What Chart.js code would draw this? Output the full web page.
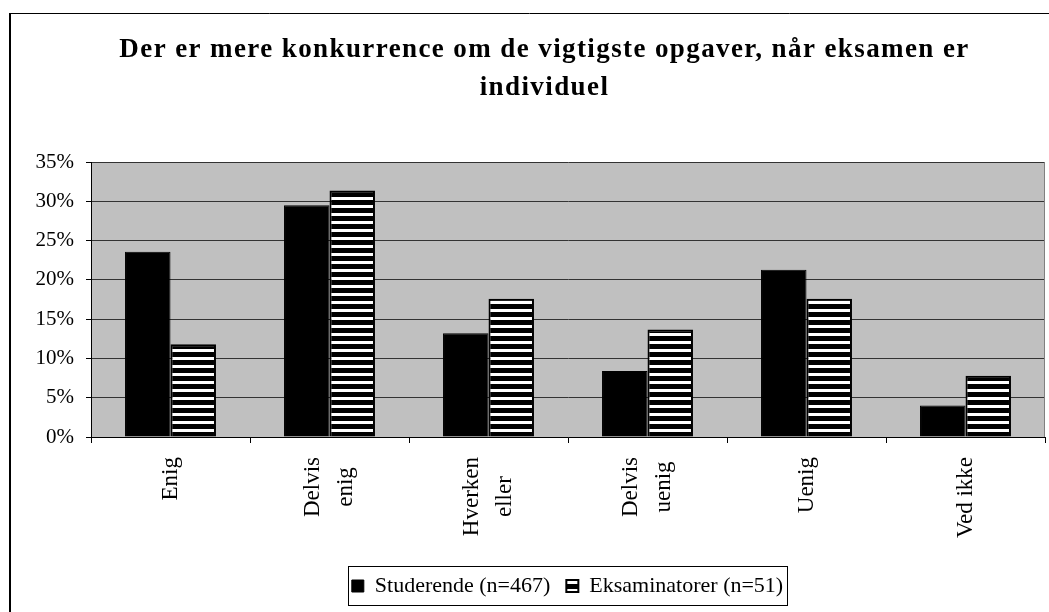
<!DOCTYPE html>
<html>
<head>
<meta charset="utf-8">
<script src="https://cdn.jsdelivr.net/npm/chart.js@4/dist/chart.umd.min.js"></script>
<style>
  html, body { margin: 0; padding: 0; background: #ffffff; }
  #wrap { width: 1049px; height: 612px; }
</style>
</head>
<body>
<div id="wrap"><canvas id="c" width="1049" height="612"></canvas></div>
<script>
// ---- data ----
const titleLines = ['Der er mere konkurrence om de vigtigste opgaver, når eksamen er', 'individuel'];
const categories = [['Enig'], ['Delvis', 'enig'], ['Hverken', 'eller'], ['Delvis', 'uenig'], ['Uenig'], ['Ved ikke']];
const seriesNames = ['Studerende (n=467)', 'Eksaminatorer (n=51)'];
const studerende = [23.6, 29.5, 13.2, 8.4, 21.3, 4.0];
const eksaminatorer = [11.8, 31.4, 17.6, 13.7, 17.6, 7.8];
const yTicks = [0, 5, 10, 15, 20, 25, 30, 35];

// ---- styles ----
const FONT = "'Liberation Serif', 'Times New Roman', serif";
Chart.defaults.font.family = FONT;
Chart.defaults.color = '#000';

function stripePattern() {
  const p = document.createElement('canvas');
  p.width = 8; p.height = 8;
  const g = p.getContext('2d');
  g.fillStyle = '#000'; g.fillRect(0, 0, 8, 8);
  g.fillStyle = '#fff'; g.fillRect(0, 5, 8, 3);
  return g.createPattern(p, 'repeat');
}

const frame = {
  id: 'frame',
  afterLayout(chart) {
    chart.legend.left += 35;
    chart.legend.right += 35;
    chart.titleBlock.left += 12;
    chart.titleBlock.right += 12;
  },
  beforeDraw(chart) {
    const {ctx, chartArea: a} = chart;
    ctx.save();
    ctx.fillStyle = '#ffffff';
    ctx.fillRect(0, 0, chart.width, chart.height);
    ctx.fillStyle = '#c0c0c0';
    ctx.fillRect(a.left, a.top, a.right - a.left, a.bottom - a.top);
    ctx.restore();
    // title letter spacing
    const t = chart.titleBlock;
    if (t && !t._spaced) {
      const orig = t.draw.bind(t);
      t.draw = function () { const c = this.ctx; c.save(); c.letterSpacing = '1.4px'; orig(); c.restore(); };
      t._spaced = true;
    }
    // center multi-line rotated x labels as a group
    const items = chart.scales.x.getLabelItems();
    items.forEach(it => {
      if (Array.isArray(it.label) && it.label.length > 1 && !it._fixed) {
        const n = it.label.length;
        it.textOffset -= (n - 1) * it.font.lineHeight / 2;
        ctx.save(); ctx.font = it.font.string;
        const maxW = Math.max(...it.label.map(s => ctx.measureText(s).width));
        ctx.restore();
        it.options.textAlign = 'center';
        it.options.translation = [it.options.translation[0], it.options.translation[1] + maxW / 2];
        it._fixed = true;
      }
    });
  },
  beforeDatasetsDraw(chart) {
    const {ctx, chartArea: a} = chart;
    ctx.save();
    ctx.strokeStyle = '#808080';
    ctx.lineWidth = 1;
    ctx.beginPath();
    ctx.moveTo(a.right - 0.5, a.top);
    ctx.lineTo(a.right - 0.5, a.bottom);
    ctx.stroke();
    ctx.restore();
  },
  afterDraw(chart) {
    const {ctx} = chart;
    ctx.save();
    // outer chart border (left and top visible)
    ctx.strokeStyle = '#000';
    ctx.lineWidth = 2;
    ctx.beginPath(); ctx.moveTo(10, 13); ctx.lineTo(10, chart.height); ctx.stroke();
    ctx.lineWidth = 1;
    ctx.beginPath(); ctx.moveTo(10, 13.5); ctx.lineTo(chart.width, 13.5); ctx.stroke();
    // legend border
    const lg = chart.legend;
    const pad = lg.options.labels.padding;
    const w = lg.lineWidths[0];
    const startX = (lg.left + pad + lg.right - w) / 2;
    const cy = lg.top + pad + 11;
    ctx.lineWidth = 1;
    ctx.strokeStyle = '#000';
    ctx.strokeRect(Math.round(startX - 4) + 0.5, Math.round(cy - 20) + 0.5, Math.round(w - pad + 8), 39);
    ctx.restore();
  }
};

new Chart(document.getElementById('c'), {
  type: 'bar',
  plugins: [frame],
  data: {
    labels: categories,
    datasets: [
      { label: seriesNames[0], data: studerende, backgroundColor: '#000', borderColor: '#000', borderWidth: 1,
        categoryPercentage: 0.572, barPercentage: 1.0 },
      { label: seriesNames[1], data: eksaminatorer, backgroundColor: stripePattern(), borderColor: '#000', borderWidth: 2,
        categoryPercentage: 0.572, barPercentage: 1.0 }
    ]
  },
  options: {
    responsive: false,
    animation: false,
    devicePixelRatio: 1,
    layout: { padding: { top: 0, left: 20, right: 4, bottom: 5 } },
    plugins: {
      tooltip: { enabled: false },
      title: {
        display: true,
        text: titleLines,
        color: '#000',
        font: { family: FONT, size: 27, weight: 'bold', lineHeight: 1.41 },
        padding: { top: 31, bottom: 55 }
      },
      legend: {
        position: 'bottom',
        labels: {
          color: '#000',
          font: { family: FONT, size: 22 },
          boxWidth: 12, boxHeight: 12,
          padding: 16
        }
      }
    },
    scales: {
      x: {
        grid: { display: true, drawOnChartArea: false, drawTicks: true, tickLength: 6, tickColor: '#000', offset: true },
        border: { display: true, color: '#000', width: 1 },
        ticks: {
          autoSkip: false, maxRotation: 90, minRotation: 90, padding: 14,
          color: '#000', font: { family: FONT, size: 23, lineHeight: 1.4 }
        },
        afterFit(scale) { scale.height = 122; }
      },
      y: {
        min: 0, max: 35,
        afterBuildTicks(scale) { scale.ticks = yTicks.map(v => ({ value: v })); },
        grid: { color: '#333', lineWidth: 1, tickLength: 5, tickColor: '#000', drawTicks: true },
        border: { display: true, color: '#000', width: 1 },
        ticks: {
          padding: 12, color: '#000', font: { family: FONT, size: 21 },
          callback: v => v + '%'
        },
        afterFit(scale) { scale.width = 71; }
      }
    }
  }
});
</script>
</body>
</html>
